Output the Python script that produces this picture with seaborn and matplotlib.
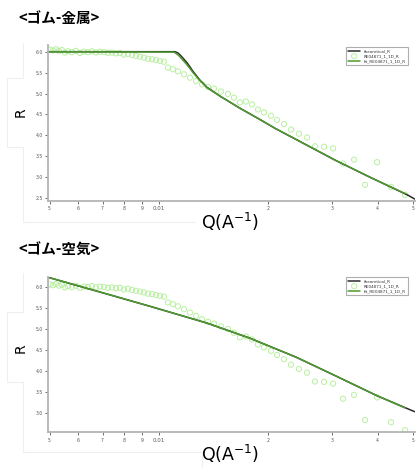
import matplotlib
matplotlib.use("Agg")
import matplotlib.pyplot as plt
from matplotlib.lines import Line2D
from matplotlib.ticker import FixedLocator, FixedFormatter, NullLocator
import seaborn as sns
import pandas as pd

# Measured reflectivity (shared by both samples)
q_meas = [0.005007, 0.005105, 0.005203, 0.005303, 0.005405, 0.005508, 0.005615,
          0.005759, 0.005907, 0.006059, 0.006215, 0.006374, 0.006538, 0.006706,
          0.006879, 0.007056, 0.007237, 0.007423, 0.007614, 0.007809, 0.008010,
          0.008216, 0.008427, 0.008644, 0.008866, 0.009094, 0.009326, 0.009566,
          0.009811, 0.010064, 0.010323, 0.010588, 0.010928, 0.011280, 0.011719,
          0.012173, 0.012647, 0.013137, 0.013646, 0.014174, 0.014817, 0.015489,
          0.016090, 0.016714, 0.017362, 0.018036, 0.018736, 0.019462, 0.020344,
          0.021134, 0.022094, 0.023094, 0.024299, 0.025563, 0.026905, 0.028480,
          0.030151, 0.032134, 0.034452, 0.036938, 0.039862, 0.043560, 0.047616]
r_meas = [6.05, 6.03, 6.06, 6.02, 6.04, 5.98, 6.01, 5.99, 6.02, 5.97, 6.00, 5.99,
          6.01, 5.98, 6.00, 5.99, 5.97, 5.98, 5.96, 5.97, 5.93, 5.95, 5.92, 5.90,
          5.88, 5.86, 5.83, 5.82, 5.80, 5.78, 5.76, 5.62, 5.58, 5.53, 5.46, 5.38,
          5.30, 5.22, 5.16, 5.12, 5.05, 4.99, 4.90, 4.79, 4.81, 4.74, 4.62, 4.55,
          4.47, 4.37, 4.27, 4.14, 4.04, 3.95, 3.74, 3.73, 3.69, 3.33, 3.42, 2.82,
          3.36, 2.77, 2.58]

# Rubber / metal model curves
q_metal = [0.004955, 0.01107, 0.01128, 0.01150, 0.01172, 0.01194, 0.01217, 0.01241,
           0.01273, 0.01297, 0.01356, 0.01472, 0.01671, 0.01897, 0.02087, 0.02525,
           0.03054, 0.03813, 0.04853, 0.0506]
r_metal_theory = [6.00, 6.00, 5.97, 5.90, 5.82, 5.74, 5.64, 5.53, 5.41, 5.32, 5.15,
                  4.94, 4.65, 4.38, 4.17, 3.79, 3.41, 3.00, 2.57, 2.48]
q_metal_fit = [0.004955, 0.01100, 0.01128, 0.01150, 0.01172, 0.01194, 0.01217, 0.01241,
               0.01273, 0.01297, 0.01356, 0.01472, 0.01671, 0.01897, 0.02087, 0.02525,
               0.03054, 0.03813, 0.04762]
r_metal_fit = [6.00, 5.99, 5.93, 5.85, 5.77, 5.69, 5.60, 5.50, 5.39, 5.31, 5.14,
               4.94, 4.65, 4.38, 4.17, 3.79, 3.41, 3.00, 2.61]

# Rubber / air model curves
q_air = [0.004955, 0.006879, 0.009445, 0.01356, 0.01781, 0.02384, 0.03054, 0.03986, 0.0506]
r_air_theory = [6.22, 5.87, 5.53, 5.13, 4.77, 4.32, 3.88, 3.40, 3.02]
q_air_fit = [0.004955, 0.006879, 0.009445, 0.01356, 0.01781, 0.02384, 0.03054, 0.03986, 0.04762]
r_air_fit = [6.22, 5.87, 5.53, 5.13, 4.77, 4.32, 3.88, 3.40, 3.11]

titles = ["<ゴム-金属>", "<ゴム-空気>"]
legend_labels = ["theoretical_R", "RE04871_1_1D_R", "fit_RE04871_1_1D_R"]
x_ticks = [0.005, 0.006, 0.007, 0.008, 0.009, 0.01, 0.02, 0.03, 0.04, 0.05]
x_ticklabels = ["5", "6", "7", "8", "9", "0.01", "2", "3", "4", "5"]
y_ticks_metal = [2.5, 3.0, 3.5, 4.0, 4.5, 5.0, 5.5, 6.0]
y_ticks_air = [3.0, 3.5, 4.0, 4.5, 5.0, 5.5, 6.0]

sns.set_theme(style="white")
plt.rcParams["font.family"] = ["DejaVu Sans", "Noto Sans CJK JP"]

W, H = 416, 468
fig = plt.figure(figsize=(W / 100, H / 100), dpi=100)
fig.patch.set_facecolor("white")

# faint frame edges of the pasted plot panels
FRAME = "#efefef"
frame_paths = [
    ([23, 23, 7, 7, 23, 23, 195], [43, 78, 78, 147, 147, 222, 222]),
    ([23, 23, 7, 7, 23, 23, 202, 202], [273, 312, 312, 382, 382, 452, 452, 468]),
]
for xs, ys in frame_paths:
    fig.add_artist(Line2D([x / W for x in xs], [1 - y / H for y in ys],
                          transform=fig.transFigure, color=FRAME, lw=0.8, zorder=0))

def px_axes(left, top, right, bottom):
    return fig.add_axes([left / W, 1 - bottom / H, (right - left) / W, (bottom - top) / H])

ax_top = px_axes(48.3, 45, 414.7, 200.7)
ax_bot = px_axes(48.3, 277.3, 414.7, 432.3)

meas = pd.DataFrame({"Q": q_meas, "R": r_meas})

panels = [
    (ax_top, q_metal, r_metal_theory, q_metal_fit, r_metal_fit, (2.44, 6.16), y_ticks_metal, 45),
    (ax_bot, q_air, r_air_theory, q_air_fit, r_air_fit, (2.53, 6.22), y_ticks_air, 275),
]

GREEN = "#4e9a2e"
LIGHT = "#b8f0a0"
SPINE = "#b4b4b4"

for ax, qt, rt, qf, rf, ylim, yt, leg_top in panels:
    ax.patch.set_alpha(0)
    theory = pd.DataFrame({"Q": qt, "R": rt})
    fit = pd.DataFrame({"Q": qf, "R": rf})
    sns.lineplot(data=theory, x="Q", y="R", ax=ax, color="#2a2a2a", lw=1.1,
                 sort=False, estimator=None, label=legend_labels[0])
    sns.scatterplot(data=meas, x="Q", y="R", ax=ax, s=14, marker="o",
                    facecolors="none", edgecolor=LIGHT, linewidth=0.7,
                    label=legend_labels[1])
    sns.lineplot(data=fit, x="Q", y="R", ax=ax, color=GREEN, lw=1.1,
                 sort=False, estimator=None, label=legend_labels[2])
    ax.set_xscale("log")
    ax.set_xlim(0.00496, 0.0506)
    ax.set_ylim(*ylim)
    ax.xaxis.set_major_locator(FixedLocator(x_ticks))
    ax.xaxis.set_major_formatter(FixedFormatter(x_ticklabels))
    ax.xaxis.set_minor_locator(NullLocator())
    ax.set_yticks(yt)
    ax.set_yticklabels([f"{v:.1f}" for v in yt])
    ax.tick_params(axis="both", which="major", labelsize=3.3, labelcolor="#555555",
                   color="#555555", length=2.5, width=0.6, direction="out",
                   bottom=True, left=True, pad=1.5)
    for lab in ax.get_xticklabels():
        if lab.get_text() == "0.01":
            lab.set_fontsize(4)
    for side in ("top", "right"):
        ax.spines[side].set_visible(False)
    for side in ("left", "bottom"):
        ax.spines[side].set_color(SPINE)
        ax.spines[side].set_linewidth(1.3)
    ax.set_xlabel("")
    ax.set_ylabel("")
    handles, labels = ax.get_legend_handles_labels()
    order = [labels.index(l) for l in legend_labels]
    leg = ax.legend([handles[i] for i in order], legend_labels,
                    loc="upper right", bbox_to_anchor=(410 / W, 1 - leg_top / H),
                    bbox_transform=fig.transFigure, fontsize=3.0, frameon=True,
                    fancybox=False, borderpad=0.5, handlelength=3.0,
                    labelspacing=0.25, handletextpad=0.8, markerscale=1.0)
    leg.get_frame().set_edgecolor("#9a9a9a")
    leg.get_frame().set_linewidth(0.8)
    for t in leg.get_texts():
        t.set_color("#333333")

# Panel titles and axis names
for yc, title in zip((18, 250), titles):
    fig.text(18 / W, 1 - yc / H, title, ha="left", va="center", fontsize=10.5,
             fontweight="bold", color="black",
             family=["Noto Sans CJK JP", "DejaVu Sans"])
for yc in (112, 348):
    fig.text(21 / W, 1 - yc / H, "R", rotation=90, ha="center", va="center",
             fontsize=10, color="black")
for yc in (222, 454):
    fig.text(230 / W, 1 - yc / H, r"Q(A$^{\mathregular{-1}}$)", ha="center", va="center",
             fontsize=12.5, color="black")

fig.savefig("out.png", dpi=100, facecolor="white")
